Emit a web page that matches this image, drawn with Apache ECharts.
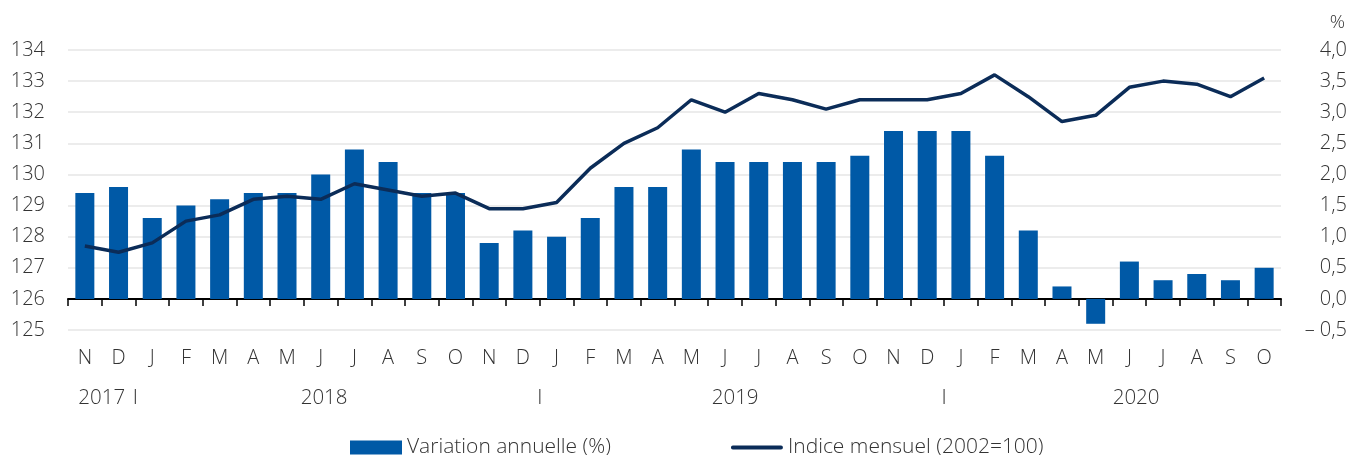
<!DOCTYPE html>
<html>
<head>
<meta charset="utf-8">
<script src="https://cdn.jsdelivr.net/npm/echarts@6/dist/echarts.min.js"></script>
<style>html,body{margin:0;padding:0;background:#fff}#c{width:1360px;height:455px}</style>
</head>
<body>
<div id="c"></div>
<script>
// Data
const months = ['N','D','J','F','M','A','M','J','J','A','S','O','N','D','J','F','M','A','M','J','J','A','S','O','N','D','J','F','M','A','M','J','J','A','S','O'];
const variationAnnuelle = [1.7,1.8,1.3,1.5,1.6,1.7,1.7,2.0,2.4,2.2,1.7,1.7,0.9,1.1,1.0,1.3,1.8,1.8,2.4,2.2,2.2,2.2,2.2,2.3,2.7,2.7,2.7,2.3,1.1,0.2,-0.4,0.6,0.3,0.4,0.3,0.5];
const indiceMensuel = [127.7,127.5,127.8,128.5,128.7,129.2,129.3,129.2,129.7,129.5,129.3,129.4,128.9,128.9,129.1,130.2,131.0,131.5,132.4,132.0,132.6,132.4,132.1,132.4,132.4,132.4,132.6,133.2,132.5,131.7,131.9,132.8,133.0,132.9,132.5,133.1];
const yearLabels = ['2017','I','2018','I','2019','I','2020'];
const seriesNames = ['Variation annuelle (%)','Indice mensuel (2002=100)'];

// Layout constants (label anchor positions along the month axis)
const yearLabelAt = [0.5, 1.5, 7.1, 13.5, 19.3, 25.5, 31.2];

const FONT = '"Open Sans", "DejaVu Sans", sans-serif';
const TXT = '#333333';
const labelMap = {};
yearLabelAt.forEach((v, i) => { labelMap[v.toFixed(2)] = yearLabels[i]; });

const chart = echarts.init(document.getElementById('c'), null, {renderer: 'canvas'});
chart.setOption({
  animation: false,
  textStyle: {fontFamily: FONT},
  grid: {left: 68, right: 79, top: 50, bottom: 125, containLabel: false},
  legend: {
    left: 345, top: 432,
    itemWidth: 52, itemHeight: 14, itemGap: 120,
    textStyle: {fontFamily: FONT, fontSize: 21, fontWeight: 300, color: TXT},
    data: [
      {name: seriesNames[0], icon: 'rect'},
      {name: seriesNames[1], icon: 'path://M2,0 L52,0 A2,2 0 0 1 52,4 L2,4 A2,2 0 0 1 2,0 Z'}
    ]
  },
  xAxis: [
    {
      type: 'category', data: months, position: 'bottom',
      axisLine: {onZero: true, onZeroAxisIndex: 1, lineStyle: {color: '#000', width: 2}},
      axisTick: {show: true, length: 7, lineStyle: {color: '#000', width: 1.5}},
      axisLabel: {show: false}
    },
    {
      type: 'category', data: months, position: 'bottom',
      axisLine: {show: false, onZero: false}, axisTick: {show: false},
      axisLabel: {margin: 18, fontSize: 20, fontWeight: 300, color: TXT, fontFamily: FONT, interval: 0}
    },
    {
      type: 'value', position: 'bottom', offset: 40, min: -0.5, max: months.length - 0.5,
      axisLine: {show: false, onZero: false}, axisTick: {show: false}, splitLine: {show: false},
      axisLabel: {
        margin: 18, fontSize: 20.5, fontWeight: 300, color: TXT, fontFamily: FONT,
        customValues: yearLabelAt,
        showMinLabel: true, showMaxLabel: true, hideOverlap: false,
        formatter: v => labelMap[Number(v).toFixed(2)] || ''
      }
    }
  ],
  yAxis: [
    {
      type: 'value', position: 'left', min: 125, max: 134, interval: 1,
      axisLine: {show: false}, axisTick: {show: false},
      splitLine: {show: true, lineStyle: {color: '#e6e6e6', width: 1.5}},
      axisLabel: {margin: 23, fontSize: 20, fontWeight: 300, color: TXT, fontFamily: FONT}
    },
    {
      type: 'value', position: 'right', min: -0.5, max: 4.0, interval: 0.5,
      name: '%', nameLocation: 'end', nameGap: 18,
      nameTextStyle: {fontSize: 19, fontWeight: 300, color: TXT, fontFamily: FONT, align: 'right', padding: [0, -64, 0, 0]},
      axisLine: {show: false}, axisTick: {show: false}, splitLine: {show: false},
      axisLabel: {
        margin: 66, align: 'right', fontSize: 20, fontWeight: 300, color: TXT, fontFamily: FONT,
        formatter: v => (v < 0 ? '\u2013 ' : '') + Math.abs(v).toFixed(1).replace('.', ',')
      }
    }
  ],
  series: [
    {
      name: seriesNames[0], type: 'bar', xAxisIndex: 0, yAxisIndex: 1,
      data: variationAnnuelle, barWidth: 19,
      itemStyle: {color: '#0059a6'}, z: 2
    },
    {
      name: seriesNames[1], type: 'line', xAxisIndex: 0, yAxisIndex: 0,
      data: indiceMensuel, symbol: 'none', showSymbol: false,
      lineStyle: {color: '#0b2c58', width: 3.5}, itemStyle: {color: '#0b2c58'}, z: 3
    }
  ]
});
</script>
</body>
</html>
